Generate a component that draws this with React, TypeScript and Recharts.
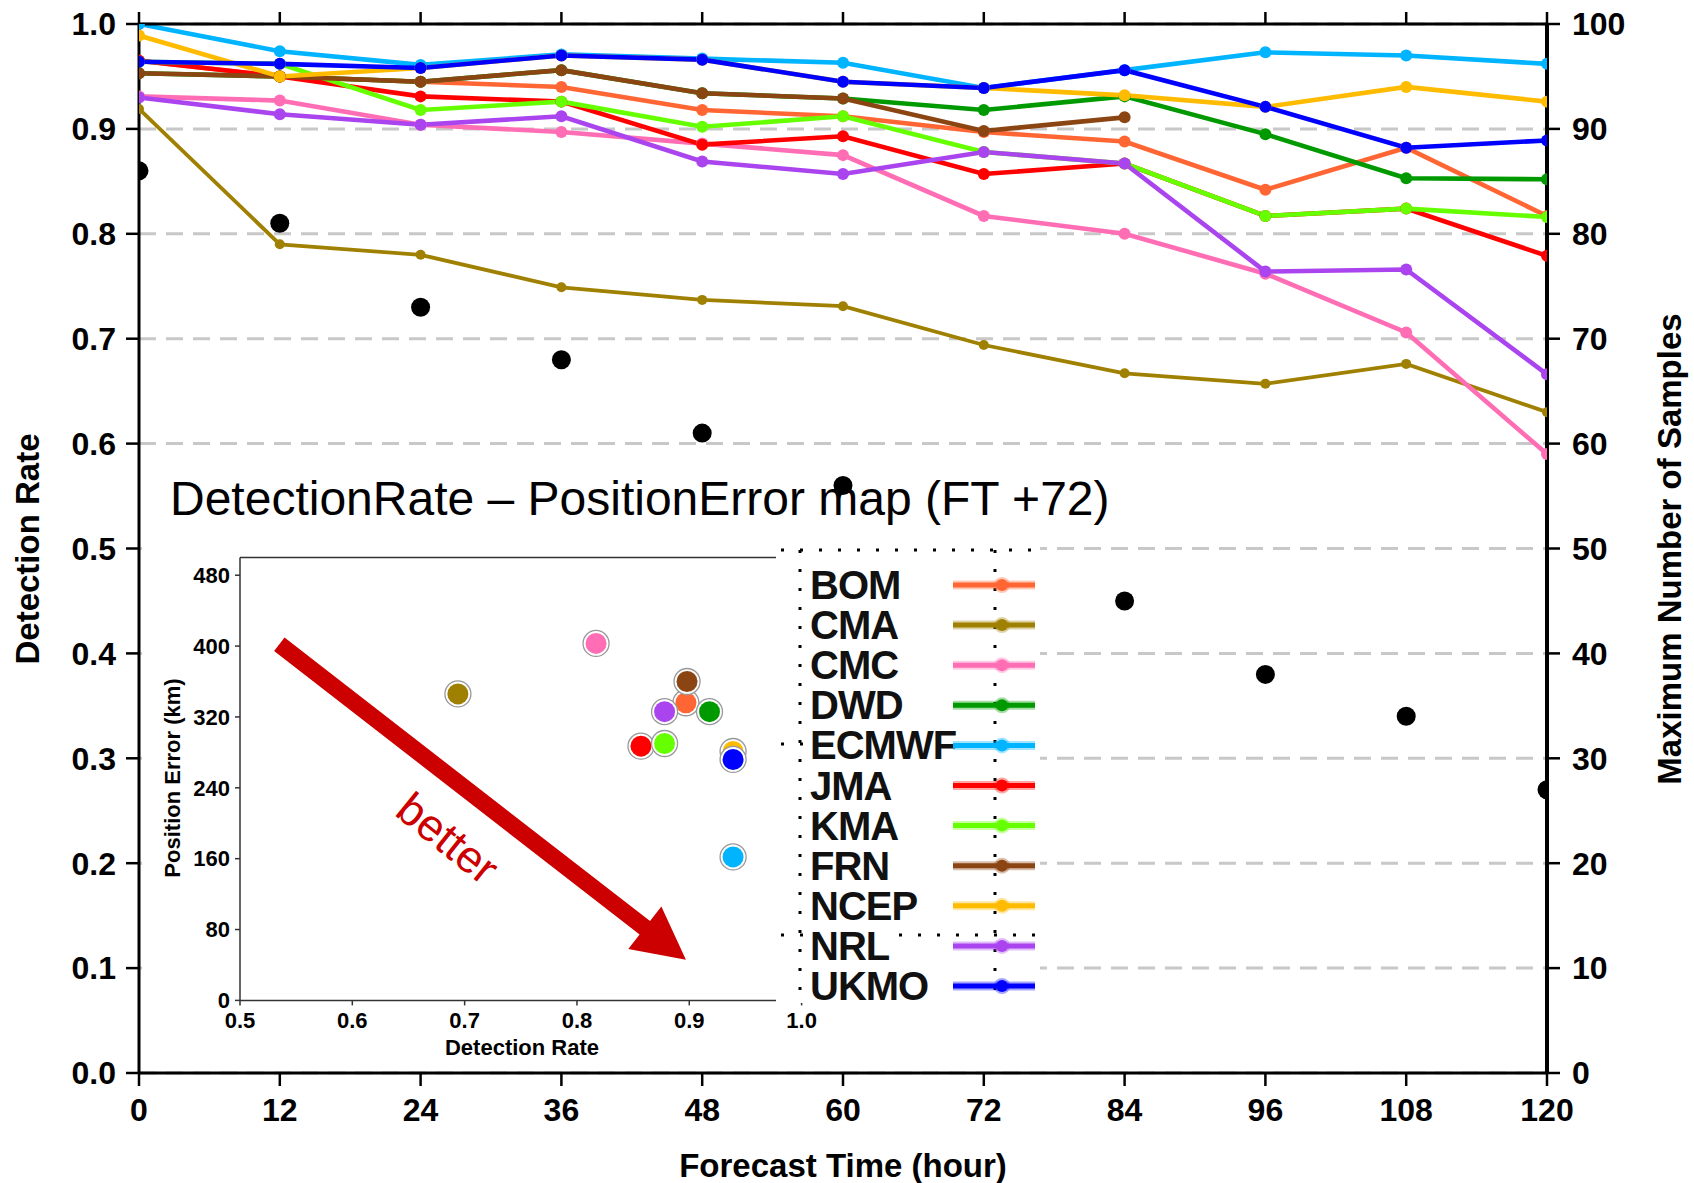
import React from "react";
import {
  ComposedChart,
  Line,
  XAxis,
  YAxis,
  CartesianGrid,
  ScatterChart,
  Scatter,
  ReferenceLine,
} from "recharts";

const FONT = '"Liberation Sans", Arial, Helvetica, sans-serif';

const hours = [0, 12, 24, 36, 48, 60, 72, 84, 96, 108, 120];
const rateTicks = [0, 0.1, 0.2, 0.3, 0.4, 0.5, 0.6, 0.7, 0.8, 0.9, 1.0];
const sampleTicks = [0, 10, 20, 30, 40, 50, 60, 70, 80, 90, 100];
const insetRateTicks = [0.5, 0.6, 0.7, 0.8, 0.9, 1.0];
const errorTicks = [0, 80, 160, 240, 320, 400, 480];

// detection rate per forecast hour
const bomRate = [0.965, 0.95, 0.945, 0.94, 0.918, 0.912, 0.897, 0.888, 0.842, 0.882, 0.817];
const cmaRate = [0.919, 0.79, 0.78, 0.749, 0.737, 0.731, 0.694, 0.667, 0.657, 0.676, 0.63];
const cmcRate = [0.931, 0.927, 0.904, 0.897, 0.886, 0.875, 0.817, 0.8, 0.762, 0.706, 0.59];
const dwdRate = [0.953, 0.95, 0.945, 0.956, 0.934, 0.929, 0.918, 0.931, 0.895, 0.853, 0.852];
const ecmwfRate = [1.0, 0.974, 0.961, 0.971, 0.967, 0.963, 0.939, 0.956, 0.973, 0.97, 0.962];
const jmaRate = [0.965, 0.95, 0.931, 0.926, 0.885, 0.893, 0.857, 0.867, 0.817, 0.824, 0.779];
const kmaRate = [0.964, 0.962, 0.918, 0.926, 0.902, 0.912, 0.878, 0.867, 0.817, 0.824, 0.816];
const frnRate = [0.953, 0.95, 0.945, 0.956, 0.934, 0.929, 0.898, 0.911, null, null, null];
const ncepRate = [0.989, 0.95, 0.958, 0.97, 0.966, 0.945, 0.939, 0.932, 0.921, 0.94, 0.926];
const nrlRate = [0.93, 0.914, 0.904, 0.912, 0.869, 0.857, 0.878, 0.867, 0.764, 0.766, 0.666];
const ukmoRate = [0.964, 0.962, 0.958, 0.97, 0.966, 0.945, 0.939, 0.956, 0.921, 0.882, 0.889];

// right axis
const maxSamples = [86, 81, 73, 68, 61, 56, 50, 45, 38, 34, 27];

// inset: position error at FT +72 (km), same model order
const positionErrorFT72 = [336, 346, 403, 326, 162, 287, 290, 360, 281, 326, 272];

const models = [
  { name: "BOM", color: "#FF6633", rates: bomRate },
  { name: "CMA", color: "#A08000", rates: cmaRate },
  { name: "CMC", color: "#FF6EB4", rates: cmcRate },
  { name: "DWD", color: "#009A00", rates: dwdRate },
  { name: "ECMWF", color: "#00B4FF", rates: ecmwfRate },
  { name: "JMA", color: "#FF0000", rates: jmaRate },
  { name: "KMA", color: "#66FF00", rates: kmaRate },
  { name: "FRN", color: "#8B4513", rates: frnRate },
  { name: "NCEP", color: "#FFBB00", rates: ncepRate },
  { name: "NRL", color: "#AA44EE", rates: nrlRate },
  { name: "UKMO", color: "#0000FF", rates: ukmoRate },
];

// arrow annotation, in inset data units
const arrowTail = { x: 0.535, y: 402 };
const arrowTip = { x: 0.897, y: 46 };

const rows = hours.map((h, i) => {
  const row: any = { hour: h, samples: maxSamples[i] };
  models.forEach((m) => (row[m.name] = m.rates[i]));
  return row;
});

const ft72 = hours.indexOf(72);

const axisStyle = { stroke: "#000", strokeWidth: 3 };
const tickStyle = { fill: "#000", fontSize: 32, fontWeight: 700, fontFamily: FONT };
const insetTick = { fill: "#000", fontSize: 22, fontWeight: 700, fontFamily: FONT };
const insetAxis = { stroke: "#333", strokeWidth: 1.5 };

const BetterArrow = (props: any) => {
  const { x1, y1, x2, y2 } = props;
  if ([x1, y1, x2, y2].some((v) => typeof v !== "number" || isNaN(v))) return null;
  const dx = x2 - x1;
  const dy = y2 - y1;
  const len = Math.hypot(dx, dy);
  const ux = dx / len;
  const uy = dy / len;
  const nx = -uy;
  const ny = ux;
  const half = 8.5;
  const headLen = 52;
  const headHalf = 27;
  const bx = x2 - ux * headLen;
  const by = y2 - uy * headLen;
  const pts = [
    [x1 + nx * half, y1 + ny * half],
    [bx + nx * half, by + ny * half],
    [bx + nx * headHalf, by + ny * headHalf],
    [x2, y2],
    [bx - nx * headHalf, by - ny * headHalf],
    [bx - nx * half, by - ny * half],
    [x1 - nx * half, y1 - ny * half],
  ]
    .map((p) => p.join(","))
    .join(" ");
  const angle = (Math.atan2(dy, dx) * 180) / Math.PI;
  const tx = x1 + dx * 0.49 + nx * 50;
  const ty = y1 + dy * 0.49 + ny * 50;
  return (
    <g>
      <polygon points={pts} fill="#CC0000" />
      <text
        x={tx}
        y={ty}
        transform={`rotate(${angle + 1} ${tx} ${ty})`}
        textAnchor="middle"
        dominantBaseline="central"
        fill="#CC0000"
        fontSize={45}
        fontFamily={FONT}
      >
        better
      </text>
    </g>
  );
};

const InsetDot = ({ cx, cy, color }: any) => (
  <g>
    <circle cx={cx} cy={cy} r={13} fill="#fff" stroke="#999" strokeWidth={1.3} />
    <circle cx={cx} cy={cy} r={10.5} fill={color} />
  </g>
);

function Legend() {
  const rowY = (i: number) => 585 + i * 40.1;
  return (
    <svg
      width={1694}
      height={1183}
      style={{ position: "absolute", left: 0, top: 0, pointerEvents: "none" }}
    >
      <rect x={776} y={540} width={264} height={463} fill="#fff" />
      <g stroke="#000" strokeWidth={3} strokeDasharray="3 16">
        <line x1={781} y1={550} x2={1037} y2={550} />
        <line x1={800} y1={550} x2={800} y2={996} />
        <line x1={995} y1={550} x2={995} y2={996} />
        <line x1={781} y1={935} x2={808} y2={935} />
        <line x1={899} y1={935} x2={1037} y2={935} />
        <line x1={781} y1={744} x2={808} y2={744} />
      </g>
      {models.map((m, i) => (
        <g key={m.name}>
          <text
            x={810}
            y={rowY(i)}
            dominantBaseline="central"
            fontSize={40}
            fontWeight={700}
            letterSpacing={-1}
            fontFamily={FONT}
            fill="#111"
          >
            {m.name}
          </text>
          <line x1={953} y1={rowY(i)} x2={1035} y2={rowY(i)} stroke={m.color} strokeOpacity={0.35} strokeWidth={9} />
          <line x1={953} y1={rowY(i)} x2={1035} y2={rowY(i)} stroke={m.color} strokeWidth={5} />
          <circle cx={1002} cy={rowY(i)} r={8} fill={m.color} fillOpacity={0.35} />
          <circle cx={1002} cy={rowY(i)} r={6} fill={m.color} />
        </g>
      ))}
    </svg>
  );
}

function Inset() {
  return (
    <div style={{ position: "absolute", left: 150, top: 520 }}>
      <ScatterChart width={700} height={540} margin={{ top: 17.5, right: 48.4, bottom: 14.6, left: 0 }}>
        <XAxis
          dataKey="dr"
          type="number"
          domain={[0.5, 1]}
          ticks={insetRateTicks}
          interval={0}
          height={45}
          tickSize={5}
          tickMargin={7}
          tickFormatter={(v: number) => v.toFixed(1)}
          axisLine={insetAxis}
          tickLine={insetAxis}
          tick={insetTick}
        />
        <XAxis
          xAxisId="top"
          orientation="top"
          type="number"
          domain={[0.5, 1]}
          ticks={insetRateTicks}
          interval={0}
          height={20}
          tickSize={5}
          tickFormatter={() => ""}
          axisLine={insetAxis}
          tickLine={insetAxis}
        />
        <YAxis
          dataKey="pe"
          type="number"
          domain={[0, 500]}
          ticks={errorTicks}
          interval={0}
          width={90}
          tickSize={5}
          tickMargin={5}
          axisLine={insetAxis}
          tickLine={insetAxis}
          tick={insetTick}
        />
        <ReferenceLine
          segment={[arrowTail, arrowTip]}
          ifOverflow="visible"
          shape={BetterArrow}
        />
        {models.map((m, i) => (
          <Scatter
            key={m.name}
            name={m.name}
            data={[{ dr: m.rates[ft72], pe: positionErrorFT72[i] }]}
            fill={m.color}
            shape={(p: any) => <InsetDot {...p} color={m.color} />}
            isAnimationActive={false}
          />
        ))}
      </ScatterChart>
    </div>
  );
}

const text = (extra: React.CSSProperties): React.CSSProperties => ({
  position: "absolute",
  whiteSpace: "nowrap",
  lineHeight: 1,
  fontFamily: FONT,
  color: "#000",
  ...extra,
});

export default function App() {
  return (
    <div style={{ position: "relative", width: 1694, height: 1183, background: "#fff" }}>
      <style>{"body{margin:0}"}</style>
      <ComposedChart
        width={1694}
        height={1183}
        data={rows}
        margin={{ top: 0, right: 0, bottom: 50, left: 0 }}
      >
        <CartesianGrid
          yAxisId="left"
          vertical={false}
          stroke="#c8c8c8"
          strokeWidth={3}
          strokeDasharray="17 10"
        />
        <XAxis
          dataKey="hour"
          type="number"
          domain={[0, 120]}
          ticks={hours}
          interval={0}
          allowDataOverflow
          height={60}
          tickSize={13}
          tickMargin={12}
          axisLine={axisStyle}
          tickLine={{ stroke: "#000", strokeWidth: 2.5 }}
          tick={tickStyle}
        />
        <XAxis
          xAxisId="top"
          orientation="top"
          dataKey="hour"
          type="number"
          domain={[0, 120]}
          ticks={hours}
          interval={0}
          height={24}
          tickSize={12}
          tickFormatter={() => ""}
          axisLine={axisStyle}
          tickLine={{ stroke: "#000", strokeWidth: 2.5 }}
        />
        <YAxis
          yAxisId="left"
          type="number"
          domain={[0, 1]}
          ticks={rateTicks}
          interval={0}
          allowDataOverflow
          width={139}
          tickSize={13}
          tickMargin={10}
          tickFormatter={(v: number) => v.toFixed(1)}
          axisLine={axisStyle}
          tickLine={{ stroke: "#000", strokeWidth: 2.5 }}
          tick={tickStyle}
        />
        <YAxis
          yAxisId="right"
          orientation="right"
          type="number"
          domain={[0, 100]}
          ticks={sampleTicks}
          interval={0}
          allowDataOverflow
          width={147}
          tickSize={13}
          tickMargin={12}
          axisLine={{ stroke: "#000", strokeWidth: 4 }}
          tickLine={{ stroke: "#000", strokeWidth: 2.5 }}
          tick={tickStyle}
        />
        <Line
          yAxisId="right"
          dataKey="samples"
          stroke="none"
          dot={{ r: 9.5, fill: "#000", stroke: "none" }}
          activeDot={false}
          isAnimationActive={false}
        />
        {models.map((m) => (
          <Line
            key={m.name}
            yAxisId="left"
            dataKey={m.name}
            stroke={m.color}
            strokeWidth={m.name === "CMA" ? 3.8 : 4.6}
            dot={{ r: m.name === "CMA" ? 5 : 6, fill: m.color, stroke: m.color, strokeWidth: 0 }}
            activeDot={false}
            isAnimationActive={false}
          />
        ))}
      </ComposedChart>

      <div style={text({ left: 27, top: 549, transform: "translate(-50%,-50%) rotate(-90deg)", fontSize: 33, fontWeight: 700 })}>
        Detection Rate
      </div>
      <div style={text({ left: 1669, top: 549, transform: "translate(-50%,-50%) rotate(-90deg)", fontSize: 33, fontWeight: 700 })}>
        Maximum Number of Samples
      </div>
      <div style={text({ left: 843, top: 1165, transform: "translate(-50%,-50%)", fontSize: 33, fontWeight: 700 })}>
        Forecast Time (hour)
      </div>

      <div style={{ position: "absolute", left: 142, top: 527, width: 898, height: 542, background: "#fff" }} />
      <div style={text({ left: 170, top: 475, fontSize: 48 })}>
        DetectionRate – PositionError map (FT +72)
      </div>
      <Inset />
      <div style={text({ left: 173, top: 778, transform: "translate(-50%,-50%) rotate(-90deg)", fontSize: 22, fontWeight: 700 })}>
        Position Error (km)
      </div>
      <div style={text({ left: 522, top: 1048, transform: "translate(-50%,-50%)", fontSize: 22, fontWeight: 700 })}>
        Detection Rate
      </div>
      <Legend />
    </div>
  );
}
